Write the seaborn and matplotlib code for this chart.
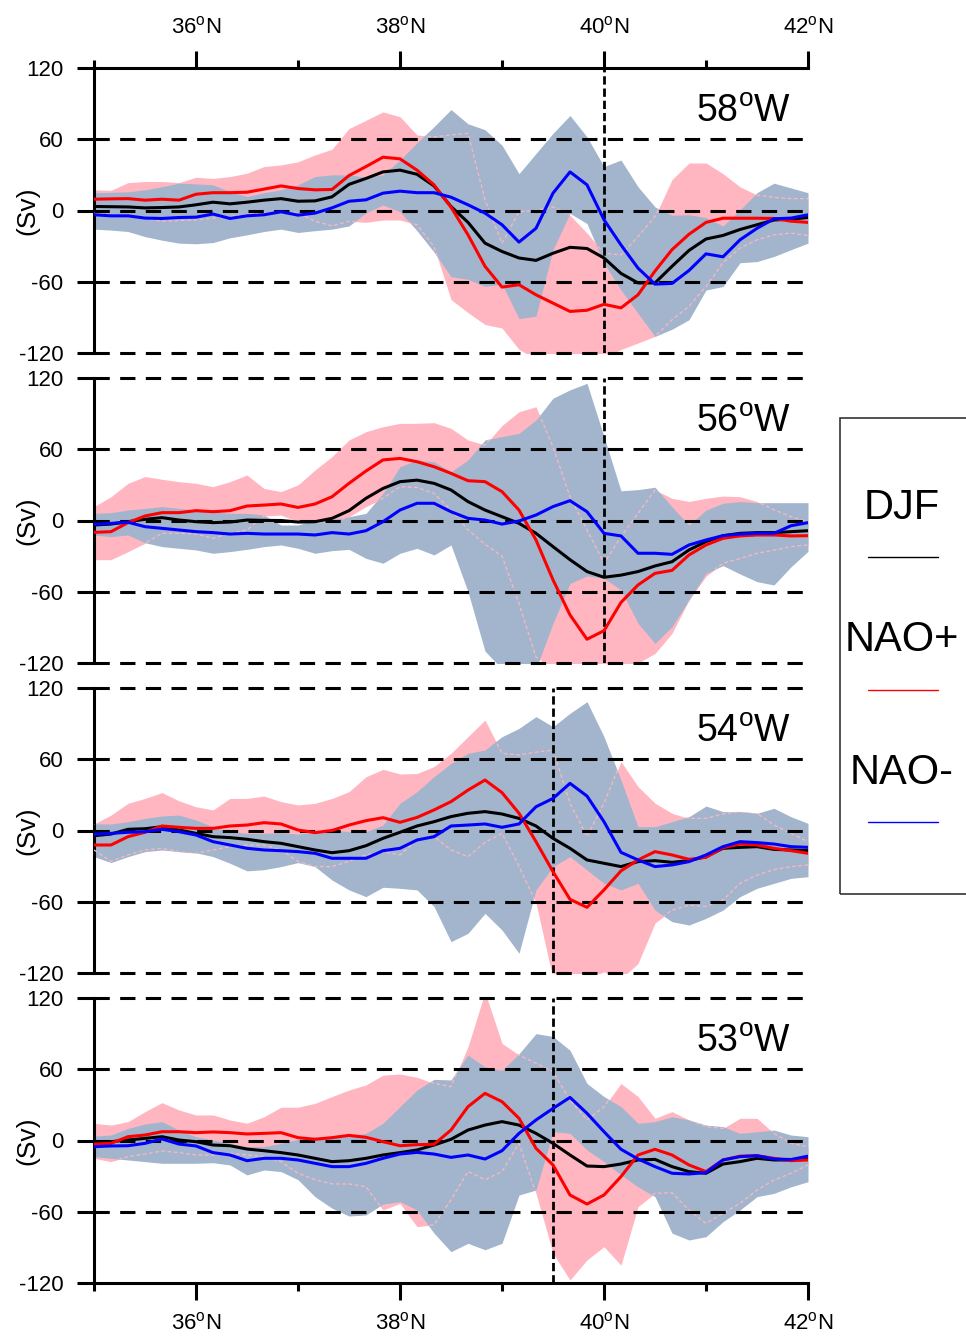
import numpy as np
import pandas as pd
import seaborn as sns
import matplotlib.pyplot as plt
from matplotlib.patches import Rectangle
from matplotlib.lines import Line2D

sns.set_style("white")
plt.rcParams['font.family'] = ['Liberation Sans', 'DejaVu Sans']
plt.rcParams['mathtext.fontset'] = 'custom'
plt.rcParams['mathtext.rm'] = 'Liberation Sans'
for key in ['text.color', 'axes.labelcolor', 'xtick.color', 'ytick.color', 'axes.edgecolor']:
    plt.rcParams[key] = 'black'

# latitude grid (1/6 degree)
lat = np.linspace(35, 42, 43)

# ---- 58W ----
djf_58 = [3.4, 3.2, 3, 2.2, 2.5, 3, 4.8, 7, 5.6, 7, 8.7, 10, 7.8, 8.1, 11.5, 22, 27, 32.5, 34, 30.5, 20.7, 3.4, -10,
          -27.5, -34.5, -40, -42, -36, -31, -32, -40, -53, -61, -61, -47, -33.6, -24, -21, -16, -12, -8, -7.3, -5.9]
pos_58 = [9.5, 9.8, 10, 8.7, 9.5, 8.7, 13.7, 15, 15, 15.4, 18, 20.7, 18.5, 17.4, 17.7, 29.4, 37, 44.9, 43.5, 34, 21.6, 2.8, -20.5,
          -47, -64.5, -62.5, -71, -78, -85, -84, -79, -82, -71, -51, -33, -20, -10, -6.5, -6.5, -6.5, -6.7, -9, -10]
neg_58 = [-3.6, -4.5, -4.5, -6.4, -6.7, -5.9, -5.6, -3, -6.7, -4.5, -3.6, -1.1, -3.9, -2.2, 2.2, 7.8, 9, 14.6, 16.3, 15, 15, 11.2, 4.8,
          -2.2, -12, -26.6, -15, 14.6, 32.5, 21.6, -7.8, -29, -48.5, -62, -61.4, -50.5, -36.5, -39, -24.7, -15, -7, -6.4, -3.6]
pos_hi_58 = [17.4, 17, 23.5, 24.4, 24.4, 23.5, 28, 27, 28.6, 31.4, 37, 38.4, 41, 46.8, 51.6, 69, 76, 83, 79, 63.6, 62, 63.6, 65,
             9, -27.6, -1, 0, 3, -4, -19, -36, -37.5, -22, -5, 26, 40, 40, 31, 20, 13, 11, 10, 10]
pos_lo_58 = [-2, -3.5, -5, -7, -9, -8.5, -8, -6.5, -5, -3.5, -2, -2, -2, -9, -13, -9, -10, -8, -8, -12, -30.5, -75, -86,
             -96, -99, -117, -125, -125, -125, -125, -125, -117, -111.6, -106, -92, -80.7, -64, -44, -31.7, -24.7, -20.5, -19, -21]
neg_hi_58 = [15, 15.3, 15.7, 17.4, 20, 23, 22.4, 21.6, 16, 11.8, 15, 17.4, 21.6, 28.6, 30, 30, 28, 30, 42.5, 57, 70.6, 85, 73,
             68, 55, 31, 48, 65, 80, 62, 37, 42.5, 20, 3, -4, -3.6, -6, -13, 0.5, 15, 23, 19, 15]
neg_lo_58 = [-15.7, -16.5, -17.7, -22, -25, -27.5, -28, -27, -23, -20.5, -17.7, -15.7, -18.5, -17, -15.7, -13, -2, 4.6, -1, -17, -35, -55.7, -58,
             -64, -62, -91, -89, -33, -2.4, -11, -44.5, -67, -86.6, -106, -100, -92, -67, -64, -44, -43, -38.7, -33, -27.5]

# ---- 56W ----
djf_56 = [-3.8, -3, -1, 1, 2.4, 0.4, -1, -1.8, -1.3, 0.4, 0.1, 0, -1.3, -1, 1.8, 8.3, 18.7, 27, 32.7, 34, 31.3, 25.7, 15.9,
          8.8, 3.2, -2.4, -10.8, -22, -33, -43, -47.8, -46, -43, -38.3, -34.7, -24.8, -17.8, -12.8, -10.8, -10.2, -10.2, -9.4, -8.6]
pos_56 = [-10, -9.4, -1.8, 3.8, 6.6, 6.6, 8.3, 7.4, 8.3, 12.2, 13, 13.9, 11, 13.9, 20, 31.3, 41.7, 51, 52.3, 49.5, 45.3, 39.7, 33.5,
          32.7, 24.3, 8.8, -16.4, -50, -79.5, -100, -92.8, -69, -54.3, -44.5, -42, -29, -20.6, -15, -13, -12.2, -12.2, -13, -12.8]
neg_56 = [-3.2, -2.4, -1.5, -5.2, -6.6, -8, -9.4, -10.2, -11.4, -10.8, -11.4, -11.4, -11.4, -12.2, -10.2, -11.4, -8.6, -1, 8.8, 14.5, 14.5, 7.4, 1.8,
          0.4, -3, -0.4, 4.6, 11.7, 16.7, 7.4, -10.8, -13, -27.6, -27.6, -28.5, -20.6, -16.4, -12.8, -11.4, -10.8, -10.8, -4.4, -1.8]
pos_hi_56 = [11.7, 20, 31.3, 37, 34.7, 32.7, 31.3, 28.5, 32.7, 38.3, 27, 24.3, 30, 42.5, 53.8, 67.8, 74.8, 79, 81.8, 81.8, 82.4, 77.6, 67.8,
             63.6, 80, 91.6, 95.8, 62, 20, -8, -36, -13.6, 6, 25.7, 18.7, 16, 18.7, 20.6, 20, 16, 9, 3.2, -1]
pos_lo_56 = [-33, -33, -26.2, -19.2, -10.8, -10.8, -11.4, -15, -10.8, -8, 3.8, 4.6, -1, -1.8, -1.8, 3.2, 11.7, 18.7, 28.5, 27.8, 22.9, 8.8, -8,
             -20, -30, -70, -115, -125, -125, -125, -125, -125, -120, -112, -95, -67, -47, -36, -32, -27.6, -25, -22, -20.6]
neg_hi_56 = [6, 6.6, 8.8, 10.2, 11.7, 10.2, 8.8, 7.4, 6, 6, 4.6, -3.8, -3.8, 0.4, 1, 3.2, 6, 22.9, 45.3, 51, 49.5, 41, 51,
             67.8, 70.6, 73.4, 84.6, 103, 110, 115.5, 70.6, 25, 26, 28, 11.6, -3.8, 8.8, 14.5, 15.9, 15, 15, 15, 15]
neg_lo_56 = [-12.2, -13.6, -12.2, -18.7, -22, -23.4, -24.8, -27.6, -26.2, -24.3, -22, -20.6, -23.4, -27.6, -25.4, -24.3, -31.9, -36, -27.6, -23.4, -29, -20.6, -60,
             -110, -125, -125, -125, -86.6, -53, -46.7, -48.7, -58.5, -86.6, -103.5, -89.4, -67, -44.5, -38, -45, -51.5, -54.3, -39, -26]

# ---- 54W ----
djf_54 = [-4.4, -3, 1, 1.5, 3.2, 0.4, -2.4, -5.2, -6, -7.4, -9.4, -10.8, -13.6, -16.4, -18.7, -17, -12.8, -6.6, -1.5, 3.8, 7.4, 11.7, 14.5,
          15.9, 13.9, 10.2, 3.8, -6.6, -15, -24.8, -27.6, -30.4, -26.2, -25.4, -26.8, -25.4, -22, -15, -14.2, -13.6, -15.9, -16.4, -17]
pos_54 = [-12.2, -12.2, -5.2, -1.5, 3.8, 2.7, 1.8, 1.8, 3.8, 4.6, 6.6, 5.5, 0.4, -1.8, 0, 4.6, 8.3, 10.8, 6.9, 11, 17.3, 24.3, 34,
          42.5, 31.9, 14.5, -9.4, -34.7, -58, -64.7, -50, -34, -24.8, -17.8, -20.6, -24.3, -22.6, -14.5, -11.4, -12.2, -15, -17, -19.2]
neg_54 = [-3, -2.4, -1.5, -1, 1, -1, -3.8, -9.4, -12.2, -15, -16.4, -17, -17.8, -19.2, -23.4, -23.4, -23.4, -17, -15, -8, -5.2, 3.8, 4.6,
          5.5, 2.7, 5.5, 20, 27, 39.7, 29, 7.4, -18.4, -24.8, -30.4, -29, -26.2, -20.6, -13.6, -9.4, -10.2, -11.4, -13.6, -14.2]
pos_hi_54 = [5.5, 13, 22.9, 27, 31.9, 25, 20, 17.3, 27, 27, 29, 24.3, 21.5, 22.9, 27, 32.7, 45.3, 51.5, 47.6, 48, 53.8, 65, 79,
             93, 65, 63.6, 66, 67.8, 23, -5, 23, 58, 37, 23, 14.5, 10.2, 10.2, 13.9, 15.9, 14.5, 4.6, -2.4, -9.4]
pos_lo_54 = [-16.4, -26, -20.6, -16.4, -15, -17.8, -19.2, -16.4, -13.6, -12.2, -12.2, -16.4, -26, -30.4, -30.4, -26, -20.6, -17.8, -20.6, -8, -5.2, -16.4, -22,
             -10, -2.4, -30, -61, -125, -125, -125, -119, -125, -112, -78, -67, -63, -64, -58.5, -44.5, -37.5, -33, -30.4, -29]
neg_hi_54 = [5.5, 5.5, 7.4, 10.2, 12.2, 13, 8.8, 3.2, -1, -2.4, -2.4, -1.8, -3, -1.8, 0.4, -1, -1, 4.6, 22.9, 32.7, 45.3, 56.5, 65,
             67.8, 79, 86, 95.9, 87.4, 98.7, 108.5, 79, 42.5, 3.2, 3.2, 7.4, 11.6, 20.6, 15.9, 15.9, 14.5, 18.7, 11.6, 6]
neg_lo_54 = [-22, -27, -22, -17.8, -16.4, -17.8, -18.7, -22, -27.6, -34, -33, -30.4, -27, -30.4, -41.7, -50, -55.7, -47.8, -48.7, -50, -64, -93.6, -86.6,
             -69.8, -83.8, -103.4, -50, -30.4, -22, -33.3, -44.5, -50, -44.5, -67, -76.8, -79.6, -74, -67, -55.7, -48.7, -44.5, -40.3, -38.9]

# ---- 53W ----
djf_53 = [-1, -1, 0.4, 1.8, 3.2, 0.4, -1, -3.8, -4.4, -7.2, -8.6, -10.2, -12.2, -15, -17.8, -17, -15, -12.2, -10.2, -8, -3.8, 1, 8.8,
          13, 15.9, 13, 6, -2.4, -12.2, -21.5, -22, -19.8, -16.4, -15.9, -22, -26.2, -27.6, -19.8, -17.8, -15, -16.4, -16.4, -15.6]
pos_53 = [-3, -2.4, 3.2, 4.6, 7.4, 7.4, 6.6, 7.2, 6.6, 5.5, 6, 6.6, 2.4, 1, 2.4, 4.3, 2.7, -1, -4.4, -3.5, -3.2, 8.8, 28.5,
          39.7, 32.7, 18.7, -6.6, -20.6, -45.9, -53.5, -45.9, -30.4, -12.2, -7.4, -12.2, -20.6, -26.2, -16.4, -13.2, -12.8, -15, -17, -16.4]
neg_53 = [-5.2, -4.6, -4.4, -2.4, 1.3, -3, -4.6, -10.2, -12.2, -17, -15, -15, -16.4, -19.2, -22, -22, -19.2, -15, -11.4, -10, -11.4, -14.2, -12.2,
          -15.6, -8.6, 6, 17.3, 27, 36.3, 22.9, 7.4, -7.4, -15.6, -22, -27.6, -28.2, -27, -16.4, -13.6, -12.8, -15.6, -16, -13.2]
pos_hi_53 = [14.5, 13, 15.9, 24.3, 31.9, 25.7, 21.5, 21.5, 17.3, 14.5, 20, 28, 28, 31.3, 37, 42.5, 46.8, 55, 56, 53.2, 48.2, 45.3, 79,
             125, 81.8, 72, 65, 58, 34, 17.3, 28.5, 48, 37, 18.7, 24.3, 17.3, 11.7, 10.2, 18.7, 18.7, 6, -2.4, -5.2]
pos_lo_53 = [-15, -17.8, -13.6, -11.4, -8.8, -10.2, -12.2, -12.2, -10.8, -12.2, -13.6, -17.8, -27.6, -33, -36.6, -36.6, -38.9, -58.5, -53, -72.6, -71, -50, -26,
             -33, -26.2, -2.4, -44.5, -95, -117.5, -100.6, -89.4, -105, -55.7, -44.5, -44, -58.6, -69.8, -61.3, -53, -41.7, -33.3, -27.6, -20.6]
neg_hi_53 = [3.8, 4.6, 10.2, 13.9, 15.9, 8.8, 3.2, 0.4, -2.4, -5.2, -5.2, -2.4, 1, 3.2, 1.8, 3.8, 6, 14.5, 28.5, 42.5, 51.5, 51, 72,
             62, 59, 73, 90, 87.6, 76, 48, 37, 28.5, 14.5, 15.9, 20, 17.3, 13, 11.7, 6, 7.4, 8.8, 4.6, 3.2]
neg_lo_53 = [-13.6, -15, -16.4, -17.8, -19.2, -19.2, -19.2, -18.7, -20.6, -29, -24.8, -26.2, -33, -47.3, -57, -63.6, -62.7, -53.5, -51.5, -58.5, -78, -93.6, -86.6,
             -92, -86.6, -45.9, -41.7, 7.4, 6, -8, -17.8, -29, -39, -47.3, -78, -83.8, -81, -68.4, -58.5, -47.3, -44.5, -39, -34.7]

panel_labels = ["58", "56", "54", "53"]
vline_lat = [40, 40, 39.5, 39.5]
series = [
    (djf_58, pos_58, neg_58, pos_hi_58, pos_lo_58, neg_hi_58, neg_lo_58),
    (djf_56, pos_56, neg_56, pos_hi_56, pos_lo_56, neg_hi_56, neg_lo_56),
    (djf_54, pos_54, neg_54, pos_hi_54, pos_lo_54, neg_hi_54, neg_lo_54),
    (djf_53, pos_53, neg_53, pos_hi_53, pos_lo_53, neg_hi_53, neg_lo_53),
]
yticks = [-120, -60, 0, 60, 120]
xticks = [36, 38, 40, 42]
xtick_labels = ["36$^\\mathrm{o}$N", "38$^\\mathrm{o}$N", "40$^\\mathrm{o}$N", "42$^\\mathrm{o}$N"]

PINK = "#FFB6C1"
STEEL = "#A2B5CD"
palette = {"DJF": "black", "NAO+": "#FF0000", "NAO-": "#0000FF"}

W, H = 966, 1339
fig = plt.figure(figsize=(W / 100, H / 100), dpi=100)

for k, (djf, pos, neg, phi, plo, nhi, nlo) in enumerate(series):
    top_px = 68 + 310 * k
    ax = fig.add_axes([94 / W, 1 - (top_px + 285) / H, 714 / W, 285 / H])

    ax.fill_between(lat, plo, phi, color=PINK, lw=0, zorder=1)
    blue_fill = ax.fill_between(lat, nlo, nhi, color=STEEL, lw=0, zorder=2)
    # NAO+ spread edges only show where the NAO- spread covers them
    clip = blue_fill.get_paths()[0]
    for edge in (phi, plo):
        ln, = ax.plot(lat, edge, color=PINK, lw=0.9, dashes=(3, 2), zorder=3)
        ln.set_clip_path(clip, ax.transData)

    for y in yticks:
        if (k == 0 and y == 120) or (k == 3 and y == -120):
            continue
        ax.axhline(y, color="black", lw=2.2, dashes=(5, 3.4), zorder=4, clip_on=False)
    ax.axvline(vline_lat[k], color="black", lw=2, dashes=(3, 1.4), zorder=4)

    df = pd.DataFrame({
        "lat": np.tile(lat, 3),
        "value": np.concatenate([djf, pos, neg]),
        "series": ["DJF"] * 43 + ["NAO+"] * 43 + ["NAO-"] * 43,
    })
    sns.lineplot(data=df, x="lat", y="value", hue="series", palette=palette,
                 lw=2.2, legend=False, ax=ax, zorder=5)

    ax.set_xlim(35, 42)
    ax.set_ylim(-120, 120)
    ax.set_xlabel("")
    ax.set_ylabel("(Sv)", fontsize=19)
    ax.yaxis.set_label_coords(-55 / 714, 0.5)
    ax.set_yticks(yticks)
    ax.set_yticklabels([str(v) for v in yticks], fontsize=16)
    ax.tick_params(axis="y", which="major", direction="out", length=12, width=2.2, pad=10, left=True)

    for s in ["top", "bottom", "right"]:
        ax.spines[s].set_visible(False)
    ax.spines["left"].set_linewidth(2.2)

    ax.set_xticks(xticks)
    ax.set_xticks([35, 37, 39, 41], minor=True)
    if k == 0:
        ax.spines["top"].set_visible(True)
        ax.spines["top"].set_linewidth(2.2)
        ax.tick_params(axis="x", which="both", top=True, bottom=False, labeltop=True, labelbottom=False,
                       direction="out", width=2.2)
        ax.tick_params(axis="x", which="major", length=12, pad=9)
        ax.tick_params(axis="x", which="minor", length=6)
        ax.set_xticklabels(xtick_labels, fontsize=16)
    elif k == 3:
        ax.spines["bottom"].set_visible(True)
        ax.spines["bottom"].set_linewidth(2.2)
        ax.tick_params(axis="x", which="both", top=False, bottom=True, labelbottom=True,
                       direction="out", width=2.2)
        ax.tick_params(axis="x", which="major", length=12, pad=9)
        ax.tick_params(axis="x", which="minor", length=6)
        ax.set_xticklabels(xtick_labels, fontsize=16)
    else:
        ax.tick_params(axis="x", which="both", top=False, bottom=False, labeltop=False, labelbottom=False)

    ax.text(40.9, 74.5, panel_labels[k] + "$^\\mathrm{o}$W", fontsize=27, ha="left", va="baseline", zorder=6)

# legend box on the right
fig.add_artist(Rectangle((840 / W, 1 - 894 / H), 200 / W, 476 / H, transform=fig.transFigure,
                         fill=False, edgecolor="#333333", lw=1.2))
for name, ty, ly in [("DJF", 508, 557), ("NAO+", 640, 690), ("NAO-", 773, 822)]:
    fig.text(902 / W, 1 - ty / H, name, fontsize=30, ha="center", va="center")
    fig.add_artist(Line2D([868 / W, 938 / W], [1 - ly / H, 1 - ly / H], transform=fig.transFigure,
                          color=palette[name], lw=1))

fig.savefig("out.png", dpi=100)
